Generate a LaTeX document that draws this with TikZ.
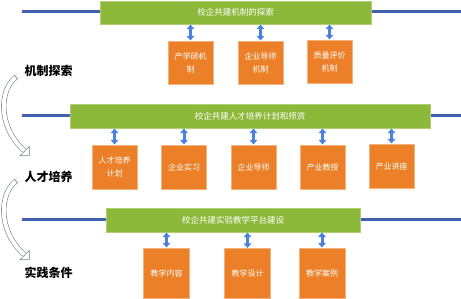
\documentclass[tikz,border=0pt]{standalone}
\usepackage{fontspec}
\setmainfont{Noto Sans CJK SC}
\usetikzlibrary{arrows.meta}
\definecolor{bargreen}{RGB}{140,185,58}
\definecolor{boxorange}{RGB}{236,128,40}
\definecolor{lineblue}{RGB}{64,98,176}
\definecolor{arrblue}{RGB}{76,128,222}
\definecolor{curvegray}{RGB}{120,128,140}
\tikzset{
  bar/.style={fill=bargreen, draw=bargreen!70!white, line width=0.5pt, text=white, font=\fontsize{8.5}{10}\selectfont, inner sep=0pt},
  ibox/.style={fill=boxorange, draw=boxorange!60!white, line width=0.5pt, text=white, font=\fontsize{8}{13}\selectfont, align=center, inner sep=0pt},
  hline/.style={draw=lineblue, line width=3pt},
  dbl/.style={draw=arrblue, line width=3pt, {Triangle[width=7.5pt,length=4.5pt]}-{Triangle[width=7.5pt,length=4.5pt]}, shorten <=0.3pt, shorten >=0.3pt},
  lbl/.style={font=\fontsize{12}{14}\selectfont\bfseries, text=black, inner sep=0pt},
  band/.style={draw=curvegray, line width=0.6pt, double=white, double distance=4pt},
  bandtip/.style={draw=curvegray, line width=0.6pt, fill=white, line join=miter},
}
\begin{document}
\begin{tikzpicture}[x=1pt,y=-1pt]
\useasboundingbox (0,0) rectangle (461,299);
% horizontal lines
\coordinate (l1s) at (22,11.5); \coordinate (l1e) at (461,11.5);
\coordinate (l2s) at (22,116); \coordinate (l2e) at (461,116);
\coordinate (l3s) at (22,220); \coordinate (l3e) at (461,220);
\draw[hline] (l1s) -- (l1e);
\draw[hline] (l2s) -- (l2e);
\draw[hline] (l3s) -- (l3e);
% green bars
\node[bar, minimum width=271pt, minimum height=23pt] (b1) at (235.5,12.5) {校企共建机制的探索};
\node[bar, minimum width=360pt, minimum height=24pt] (b2) at (250,116) {校企共建人才培养计划和师资};
\node[bar, minimum width=254pt, minimum height=24pt] (b3) at (233,220) {校企共建实验教学平台建设};
% row 1 boxes
\node[ibox, minimum width=45pt, minimum height=43pt] (r1a) at (190.5,62.5) {产学研机\\制};
\node[ibox, minimum width=45pt, minimum height=43pt] (r1b) at (260.5,62.5) {企业导师\\机制};
\node[ibox, minimum width=45pt, minimum height=43pt] (r1c) at (329.5,61.5) {质量评价\\机制};
% row 2 boxes
\node[ibox, minimum width=45pt, minimum height=44pt] (r2a) at (114.5,167) {人才培养\\计划};
\node[ibox, minimum width=45pt, minimum height=44pt] (r2b) at (184,167) {企业实习};
\node[ibox, minimum width=45pt, minimum height=44pt] (r2c) at (253.5,167) {企业导师};
\node[ibox, minimum width=45pt, minimum height=44pt] (r2d) at (322.5,167) {产业教授};
\node[ibox, minimum width=45pt, minimum height=44pt] (r2e) at (391.5,166) {产业讲座};
% row 3 boxes
\node[ibox, minimum width=46pt, minimum height=50pt] (r3a) at (166.5,273) {教学内容};
\node[ibox, minimum width=46pt, minimum height=50pt] (r3b) at (247.5,273.5) {教学设计};
\node[ibox, minimum width=46pt, minimum height=50pt] (r3c) at (322,273) {教学案例};
% double arrows
\foreach \b in {r1a,r1b,r1c} \draw[dbl] (\b.north |- b1.south) -- (\b.north);
\foreach \b in {r2a,r2b,r2c,r2d,r2e} \draw[dbl] (\b.north |- b2.south) -- (\b.north);
\foreach \b in {r3a,r3b,r3c} \draw[dbl] (\b.north |- b3.south) -- (\b.north);
% labels
\node[lbl] (t1) at (48.5,71) {机制探索};
\node[lbl] (t2) at (48.5,177) {人才培养};
\node[lbl] (t3) at (48.5,273) {实践条件};
% curved hollow arrows
\foreach \dy/\n in {0/1,104/2}{
  \coordinate (c\n s) at (16,{77+\dy});
  \coordinate (c\n e) at (24,{150.4+\dy});
  \coordinate (c\n t) at (29.3,{155.7+\dy});
  \coordinate (c\n p) at (20,{155.7+\dy});
  \coordinate (c\n q) at (29.3,{146.4+\dy});
  \draw[bandtip] (c\n p) -- (c\n t) -- (c\n q) -- cycle;
  \draw[band] (c\n s) .. controls (-1,{90+\dy}) and (-2,{127+\dy}) .. (c\n e);
  \draw[draw=curvegray, line width=0.6pt] (14.36,{74.98+\dy}) -- (17.64,{79.02+\dy});
}
\end{tikzpicture}
\end{document}
